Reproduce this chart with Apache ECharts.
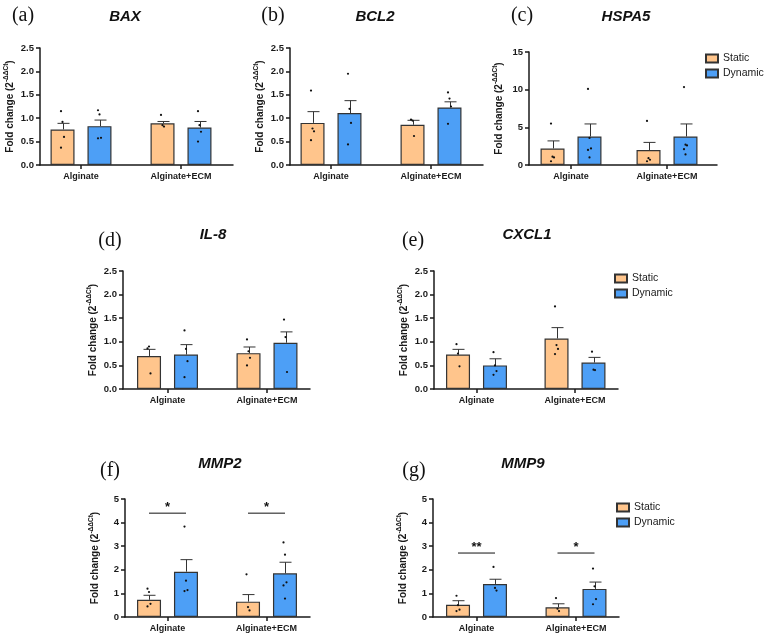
<!DOCTYPE html>
<html>
<head>
<meta charset="utf-8">
<script src="https://cdn.jsdelivr.net/npm/echarts@6/dist/echarts.min.js"></script>
<style>
  html, body { margin: 0; padding: 0; background: #fff; }
  #chart { width: 764px; height: 638px; }
</style>
</head>
<body>
<div id="chart"></div>
<script>
// categories and groups
const categories = ['Alginate', 'Alginate+ECM'];
const groupNames = ['Static', 'Dynamic'];
const genes = ['BAX', 'BCL2', 'HSPA5', 'IL-8', 'CXCL1', 'MMP2', 'MMP9'];
const panelLetters = ['(a)', '(b)', '(c)', '(d)', '(e)', '(f)', '(g)'];

// y axis ticks per panel
const yMax = [2.5, 2.5, 15, 2.5, 2.5, 5, 5];
const yStep = [0.5, 0.5, 5, 0.5, 0.5, 1, 1];

// means (Alginate, Alginate+ECM), SEM and individual points
const baxStatic = [0.76, 0.89];
const baxDynamic = [0.83, 0.80];
const baxStaticSem = [0.13, 0.04];
const baxDynamicSem = [0.13, 0.13];
const baxStaticDots = [[1.15, 0.92, 0.6, 0.37], [1.07, 0.85, 0.82]];
const baxDynamicDots = [[1.17, 1.08, 0.58, 0.57], [1.15, 0.85, 0.71, 0.5]];

const bcl2Static = [0.90, 0.86];
const bcl2Dynamic = [1.11, 1.23];
const bcl2StaticSem = [0.24, 0.095];
const bcl2DynamicSem = [0.265, 0.12];
const bcl2StaticDots = [[1.59, 0.78, 0.72, 0.53], [0.97, 0.95, 0.62]];
const bcl2DynamicDots = [[1.95, 1.2, 0.9, 0.44], [1.55, 1.42, 1.25, 0.88]];

const hspa5Static = [2.2, 1.98];
const hspa5Dynamic = [3.78, 3.78];
const hspa5StaticSem = [1.0, 1.02];
const hspa5DynamicSem = [1.67, 1.67];
const hspa5StaticDots = [[5.5, 1.1, 1.0, 0.5], [5.85, 0.9, 0.7, 0.5]];
const hspa5DynamicDots = [[10.1, 3.6, 2.2, 2.0, 1.0], [10.35, 2.7, 2.6, 2.1, 1.4]];

const il8Static = [0.70, 0.76];
const il8Dynamic = [0.73, 0.98];
const il8StaticSem = [0.14, 0.13];
const il8DynamicSem = [0.21, 0.23];
const il8StaticDots = [[0.86, 0.9, 0.33], [1.05, 0.8, 0.66, 0.5]];
const il8DynamicDots = [[1.24, 0.85, 0.59, 0.25], [1.47, 1.1, 0.36]];

const cxcl1Static = [0.73, 1.07];
const cxcl1Dynamic = [0.50, 0.56];
const cxcl1StaticSem = [0.11, 0.23];
const cxcl1DynamicSem = [0.14, 0.11];
const cxcl1StaticDots = [[0.95, 0.75, 0.48], [1.75, 0.93, 0.85, 0.74]];
const cxcl1DynamicDots = [[0.78, 0.5, 0.38, 0.3], [0.79, 0.41, 0.4]];

const mmp2Static = [0.73, 0.65];
const mmp2Dynamic = [1.92, 1.85];
const mmp2StaticSem = [0.19, 0.30];
const mmp2DynamicSem = [0.51, 0.47];
const mmp2StaticDots = [[1.2, 1.06, 0.56, 0.45], [1.81, 0.42, 0.28]];
const mmp2DynamicDots = [[3.83, 1.54, 1.14, 1.1], [3.16, 2.64, 1.47, 1.34, 0.78]];

const mmp9Static = [0.52, 0.41];
const mmp9Dynamic = [1.40, 1.19];
const mmp9StaticSem = [0.17, 0.15];
const mmp9DynamicSem = [0.20, 0.29];
const mmp9StaticDots = [[0.9, 0.5, 0.31, 0.25], [0.8, 0.35, 0.25]];
const mmp9DynamicDots = [[2.12, 1.23, 1.12], [2.05, 1.3, 0.76, 0.54]];

// significance brackets (panel index 5 = MMP2, 6 = MMP9)
const mmp2Sig = ['*', '*'];
const mmp9Sig = ['**', '*'];
const mmp2SigLevel = 4.4;
const mmp9SigLevel = 2.71;

const panelData = [
  [baxStatic, baxDynamic, baxStaticSem, baxDynamicSem, baxStaticDots, baxDynamicDots],
  [bcl2Static, bcl2Dynamic, bcl2StaticSem, bcl2DynamicSem, bcl2StaticDots, bcl2DynamicDots],
  [hspa5Static, hspa5Dynamic, hspa5StaticSem, hspa5DynamicSem, hspa5StaticDots, hspa5DynamicDots],
  [il8Static, il8Dynamic, il8StaticSem, il8DynamicSem, il8StaticDots, il8DynamicDots],
  [cxcl1Static, cxcl1Dynamic, cxcl1StaticSem, cxcl1DynamicSem, cxcl1StaticDots, cxcl1DynamicDots],
  [mmp2Static, mmp2Dynamic, mmp2StaticSem, mmp2DynamicSem, mmp2StaticDots, mmp2DynamicDots],
  [mmp9Static, mmp9Dynamic, mmp9StaticSem, mmp9DynamicSem, mmp9StaticDots, mmp9DynamicDots],
];
const sigs = { 5: [mmp2Sig, mmp2SigLevel], 6: [mmp9Sig, mmp9SigLevel] };

// layout (px): plot box and where the two group ticks sit
const boxes = [
  { left: 40, right: 233, top: 48, bottom: 165, t1: 81, t2: 181 },
  { left: 290, right: 483, top: 48, bottom: 165, t1: 331, t2: 431 },
  { left: 529, right: 717, top: 52, bottom: 165, t1: 571, t2: 667 },
  { left: 123, right: 310, top: 271, bottom: 389, t1: 167.5, t2: 267 },
  { left: 434, right: 618, top: 271, bottom: 389, t1: 476.5, t2: 575 },
  { left: 125, right: 310, top: 499, bottom: 617, t1: 167.5, t2: 266.5 },
  { left: 433, right: 619, top: 499, bottom: 617, t1: 476.5, t2: 576 },
];
const letterPos = [[23, 16], [273, 16], [522, 16], [110, 241], [413, 241], [110, 471], [414, 471]];
const titlePos = [[125, 17], [375, 17], [626, 17], [213, 235], [527, 235], [220, 464], [523, 464]];
const legendPos = { 2: [705, 53], 4: [614, 273], 6: [616, 502] };

const COLORS = ['#FFC58C', '#4D9FF6'];
const INK = '#1a1a1a';
const FONT = '"Liberation Sans", Arial, sans-serif';
const BAR_W = 24;
const HALF = 18.5; // bar center offset from group tick

function errorSeries(p, means, sems, offset) {
  return {
    type: 'custom',
    xAxisIndex: p,
    yAxisIndex: p,
    z: 4,
    silent: true,
    data: means.map((m, i) => [i + 1, m, sems[i]]),
    renderItem: (params, api) => {
      const base = api.coord([api.value(0), api.value(1)]);
      const top = api.coord([api.value(0), api.value(1) + api.value(2)]);
      const x = Math.round(base[0] + offset) + 0.5;
      const st = { stroke: '#333', lineWidth: 1 };
      return {
        type: 'group',
        children: [
          { type: 'line', shape: { x1: x, y1: base[1], x2: x, y2: top[1] }, style: st },
          { type: 'line', shape: { x1: x - 6, y1: top[1], x2: x + 6, y2: top[1] }, style: st },
        ],
      };
    },
  };
}

function dotSeries(p, dots, offset) {
  const data = [];
  dots.forEach((vals, i) => vals.forEach((v, k) => data.push([i + 1, v, k])));
  return {
    type: 'custom',
    xAxisIndex: p,
    yAxisIndex: p,
    z: 5,
    silent: true,
    data,
    renderItem: (params, api) => {
      const pt = api.coord([api.value(0), api.value(1)]);
      const k = api.value(2);
      const jitter = ((k % 3) - 1) * 1.5;
      return {
        type: 'circle',
        shape: { cx: pt[0] + offset + jitter, cy: pt[1], r: 1.1 },
        style: { fill: '#111' },
      };
    },
  };
}

function sigSeries(p, labels, level) {
  return {
    type: 'custom',
    xAxisIndex: p,
    yAxisIndex: p,
    z: 5,
    silent: true,
    data: labels.map((s, i) => [i + 1, level]),
    renderItem: (params, api) => {
      const pt = api.coord([api.value(0), api.value(1)]);
      return {
        type: 'group',
        children: [
          { type: 'line', shape: { x1: pt[0] - HALF, y1: pt[1], x2: pt[0] + HALF, y2: pt[1] },
            style: { stroke: '#111', lineWidth: 1 } },
          { type: 'text', x: pt[0], y: pt[1] - 6,
            style: { text: labels[params.dataIndex], fill: '#111', font: 'bold 13px ' + FONT,
              align: 'center', verticalAlign: 'middle' } },
        ],
      };
    },
  };
}

const grids = [], xAxes = [], yAxes = [], series = [], legends = [], graphics = [];

boxes.forEach((b, p) => {
  const span = b.t2 - b.t1;
  grids.push({ left: b.left, top: b.top, width: b.right - b.left, height: b.bottom - b.top });
  xAxes.push({
    type: 'value',
    gridIndex: p,
    min: 1 - (b.t1 - b.left) / span,
    max: 2 + (b.right - b.t2) / span,
    axisLine: { show: true, onZero: false, lineStyle: { color: INK, width: 1.5 } },
    axisTick: { show: true, customValues: [1, 2], length: 4, lineStyle: { color: INK, width: 1.5 } },
    axisLabel: {
      customValues: [1, 2],
      formatter: (v) => categories[Math.round(v) - 1],
      color: INK, fontFamily: FONT, fontWeight: 'bold', fontSize: 9, margin: 7,
    },
    splitLine: { show: false },
  });
  yAxes.push({
    type: 'value',
    gridIndex: p,
    min: 0,
    max: yMax[p],
    interval: yStep[p],
    axisLine: { show: true, onZero: false, lineStyle: { color: INK, width: 1.5 } },
    axisTick: { show: true, length: 4, lineStyle: { color: INK, width: 1.5 } },
    axisLabel: {
      formatter: (v) => (yStep[p] < 1 ? v.toFixed(1) : String(v)),
      color: INK, fontFamily: FONT, fontWeight: 'bold', fontSize: 9.5, margin: 6,
    },
    splitLine: { show: false },
    name: '{a|Fold change (2}{b|-ΔΔCt}{a|)}',
    nameLocation: 'middle',
    nameRotate: 90,
    nameGap: 25,
    nameTextStyle: {
      rich: {
        a: { fontFamily: FONT, fontWeight: 'bold', fontSize: 10, color: INK, lineHeight: 12, verticalAlign: 'bottom' },
        b: { fontFamily: FONT, fontWeight: 'bold', fontSize: 6.5, color: INK, lineHeight: 12, verticalAlign: 'top' },
      },
    },
  });

  const [sMean, dMean, sSem, dSem, sDots, dDots] = panelData[p];
  [sMean, dMean].forEach((means, g) => {
    series.push({
      type: 'bar',
      name: groupNames[g],
      xAxisIndex: p,
      yAxisIndex: p,
      z: 2,
      barWidth: BAR_W,
      barGap: '54%',
      data: means.map((m, i) => [i + 1, m]),
      itemStyle: { color: COLORS[g], borderColor: '#333', borderWidth: 1.2 },
      silent: true,
    });
  });
  series.push(errorSeries(p, sMean, sSem, -HALF));
  series.push(errorSeries(p, dMean, dSem, HALF));
  series.push(dotSeries(p, sDots, -HALF));
  series.push(dotSeries(p, dDots, HALF));
  if (sigs[p]) series.push(sigSeries(p, sigs[p][0], sigs[p][1]));

  if (legendPos[p]) {
    legends.push({
      data: groupNames,
      left: legendPos[p][0],
      top: legendPos[p][1],
      orient: 'vertical',
      icon: 'rect',
      itemWidth: 12,
      itemHeight: 8,
      itemGap: 4,
      padding: 0,
      selectedMode: false,
      textStyle: { fontFamily: FONT, fontSize: 10.5, color: INK, lineHeight: 11 },
    });
  }

  graphics.push({
    type: 'text', x: letterPos[p][0], y: letterPos[p][1],
    style: { text: panelLetters[p], font: '20px "Liberation Serif", "Times New Roman", serif',
      fill: '#111', align: 'center', verticalAlign: 'middle' },
  });
  graphics.push({
    type: 'text', x: titlePos[p][0], y: titlePos[p][1],
    style: { text: genes[p], font: 'italic bold 15px ' + FONT,
      fill: '#111', align: 'center', verticalAlign: 'middle' },
  });
});

const chart = echarts.init(document.getElementById('chart'), null, { renderer: 'canvas' });
chart.setOption({
  animation: false,
  backgroundColor: '#fff',
  grid: grids,
  xAxis: xAxes,
  yAxis: yAxes,
  legend: legends,
  graphic: graphics,
  series,
});
</script>
</body>
</html>
